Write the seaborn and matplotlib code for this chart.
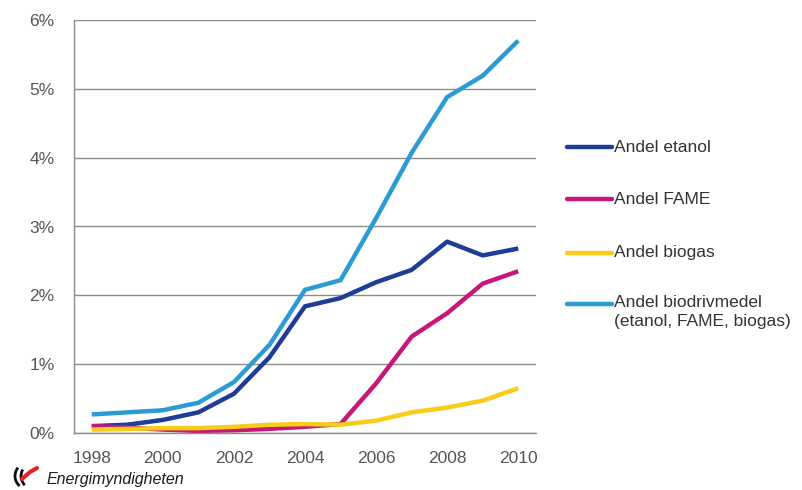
import numpy as np
import pandas as pd
import matplotlib
matplotlib.use("Agg")
import matplotlib.pyplot as plt
from matplotlib.lines import Line2D
from matplotlib.patches import Arc
import seaborn as sns

# Values (share of fuel, %)
years = list(range(1998, 2011))
etanol = [0.10, 0.12, 0.19, 0.30, 0.57, 1.10, 1.84, 1.96, 2.19, 2.37, 2.78, 2.58, 2.68]
fame = [0.10, 0.08, 0.05, 0.03, 0.04, 0.06, 0.09, 0.13, 0.72, 1.40, 1.74, 2.17, 2.35]
biogas = [0.05, 0.06, 0.07, 0.07, 0.09, 0.12, 0.13, 0.12, 0.18, 0.30, 0.37, 0.47, 0.65]
total = [0.27, 0.30, 0.33, 0.44, 0.74, 1.28, 2.08, 2.22, 3.12, 4.07, 4.88, 5.19, 5.70]

series_names = ["Andel etanol", "Andel FAME", "Andel biogas",
                "Andel biodrivmedel\n(etanol, FAME, biogas)"]
colors = ["#1f3c96", "#c8177b", "#f8cc17", "#2b9bd3"]

df = pd.DataFrame({
    "year": years * 4,
    "value": etanol + fame + biogas + total,
    "series": np.repeat(series_names, len(years)),
})

sns.set_style("white")
plt.rcParams["font.family"] = ["Liberation Sans", "DejaVu Sans"]

fig = plt.figure(figsize=(8.03, 4.90), dpi=100)
ax = fig.add_axes([74 / 803, 1 - 433 / 490, 462 / 803, 413 / 490])

sns.lineplot(data=df, x="year", y="value", hue="series", palette=colors,
             hue_order=series_names, linewidth=3.2, legend=False, ax=ax,
             solid_capstyle="butt")

ax.set_xlim(1997.5, 2010.5)
ax.set_ylim(0, 6)
ax.set_xlabel("")
ax.set_ylabel("")

# category-style x axis: ticks between years, labels on even years
ax.set_xticks(np.arange(1997.5, 2011, 1.0))
ax.set_xticklabels([])
ax.set_xticks(years[::2], [str(y) for y in years[::2]], minor=True)
ax.tick_params(axis="x", which="major", length=5, width=1, color="#8c8c8c", direction="out")
ax.tick_params(axis="x", which="minor", length=0, pad=13, labelsize=12.5, labelcolor="#555555")

ax.set_yticks(range(0, 7))
ax.set_yticklabels([f"{v}%" for v in range(0, 7)])
ax.tick_params(axis="y", length=5, width=1, color="#8c8c8c", direction="out",
               labelsize=12.5, labelcolor="#555555", pad=9)
ax.yaxis.grid(True, color="#8c8c8c", linewidth=1)
ax.set_axisbelow(True)

for side in ["top", "right"]:
    ax.spines[side].set_visible(False)
for side in ["left", "bottom"]:
    ax.spines[side].set_color("#8c8c8c")
    ax.spines[side].set_linewidth(1)

# legend drawn on the right
legend_y = [147, 199, 253, 304]
for name, col, yp in zip(series_names, colors, legend_y):
    yf = 1 - yp / 490
    fig.add_artist(Line2D([567 / 803, 612 / 803], [yf, yf], color=col,
                          linewidth=3.2, solid_capstyle="round"))
    if "\n" in name:
        fig.text(614 / 803, 1 - (yp - 9) / 490, name, fontsize=12.5,
                 color="#333333", va="top", ha="left", linespacing=1.35)
    else:
        fig.text(614 / 803, yf, name, fontsize=12.5, color="#333333",
                 va="center", ha="left")

# Energimyndigheten logo
lax = fig.add_axes([6 / 803, 0, 40 / 803, 28 / 490])
lax.set_xlim(0, 40)
lax.set_ylim(0, 28)
lax.axis("off")
lax.add_patch(Arc((22, 14), 26, 26, theta1=140, theta2=230, color="#111111", linewidth=2))
lax.add_patch(Arc((28, 14), 26, 26, theta1=150, theta2=225, color="#111111", linewidth=2))
lax.plot([16, 24, 31], [11, 18, 22], color="#e3242b", linewidth=3, solid_capstyle="round")
fig.text(47 / 803, 1 - 479 / 490, "Energimyndigheten", fontsize=11.5,
         style="italic", color="#1a1a1a", va="center", ha="left")

fig.savefig("out.png", dpi=100)
